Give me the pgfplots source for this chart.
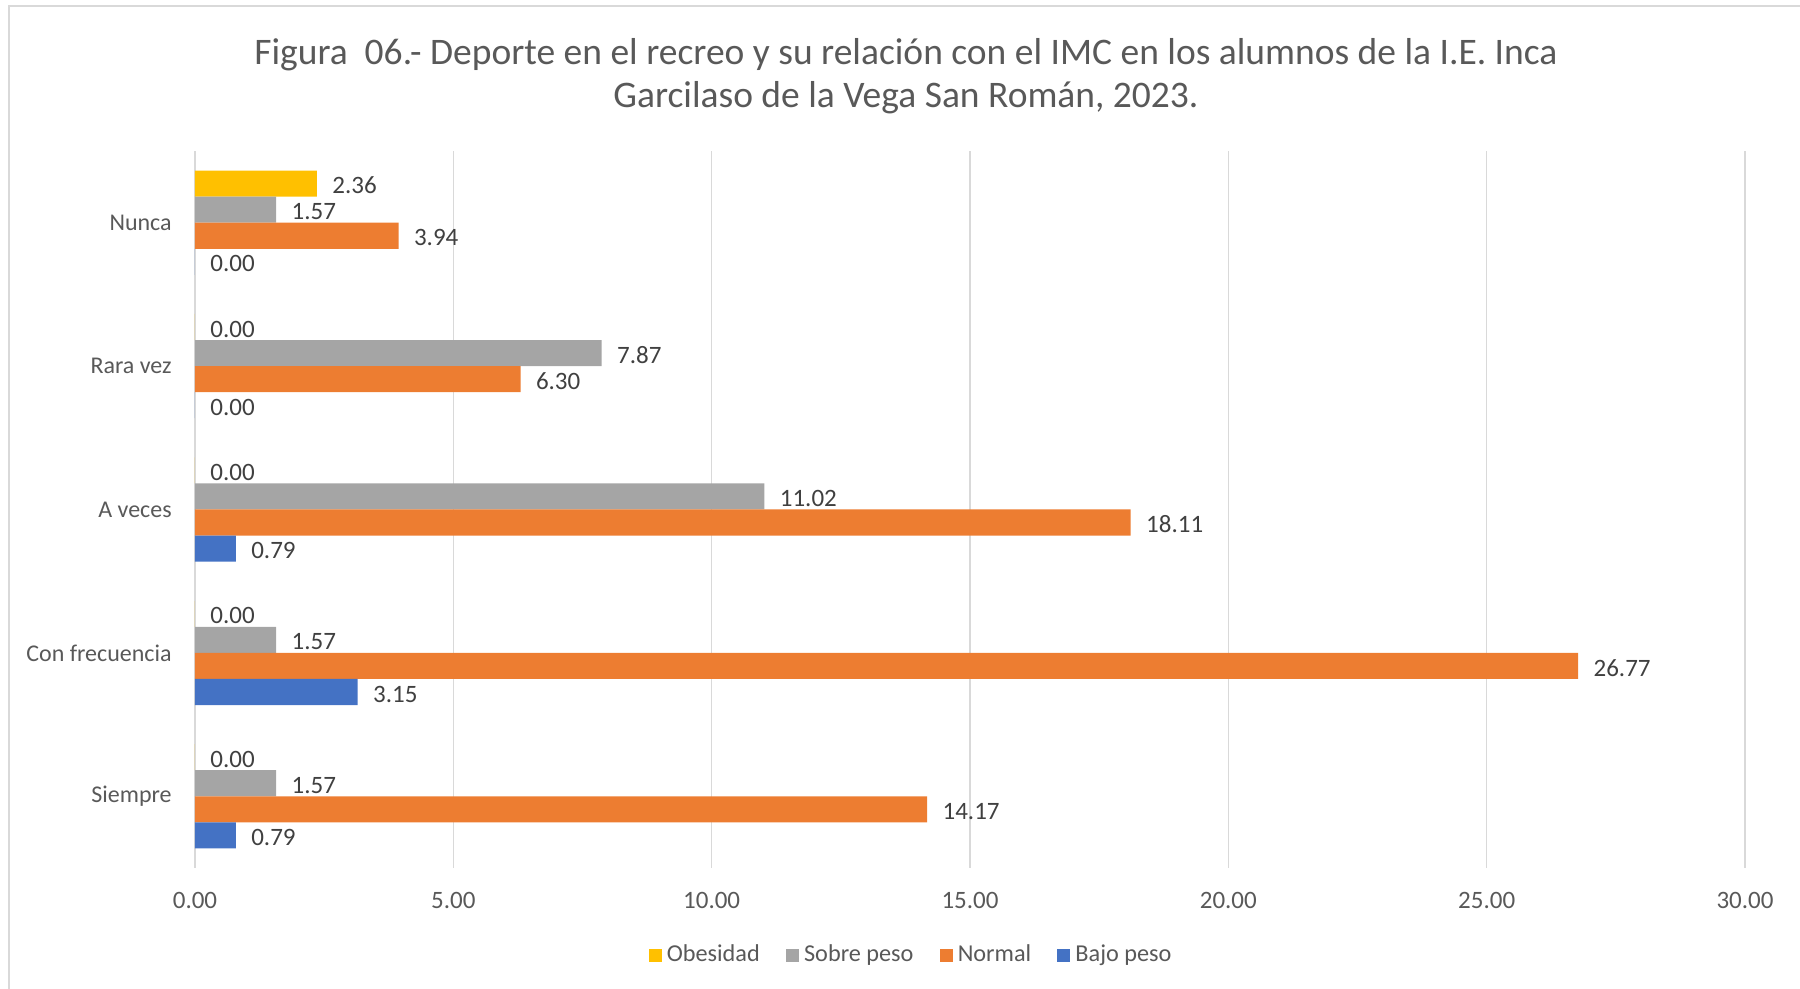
\documentclass[border=0pt]{standalone}
\usepackage{fontspec}
\setmainfont{Carlito}
\usepackage{pgfplots}
\pgfplotsset{compat=1.18}
\definecolor{obes}{HTML}{FFC000}
\definecolor{sobre}{HTML}{A5A5A5}
\definecolor{normal}{HTML}{ED7D31}
\definecolor{bajo}{HTML}{4472C4}
\definecolor{axgray}{HTML}{595959}
\definecolor{lblgray}{HTML}{404040}
\definecolor{gridgray}{HTML}{D9D9D9}
\begin{document}
\begin{tikzpicture}
\useasboundingbox (-78pt,-48.4pt) rectangle (642pt,347.2pt);
\draw[draw=gridgray, line width=0.9pt] (-74.4pt,-48.4pt) -- (-74.4pt,344.8pt) -- (642pt,344.8pt);
\begin{axis}[
  at={(0pt,0pt)}, anchor=south west,
  scale only axis, width=620pt, height=286.8pt,
  xbar, bar width=0.1818,
  xmin=0, xmax=30, ymin=-0.5, ymax=4.5,
  xtick={0,5,...,30}, ytick={0,1,2,3,4},
  yticklabels={Siempre,Con frecuencia,A veces,Rara vez,Nunca},
  xticklabel={\pgfmathprintnumber[fixed,fixed zerofill,precision=2]{\tick}},
  /pgf/number format/assume math mode=true,
  axis line style={draw=none},
  major tick length=0pt,
  xmajorgrids, major grid style={draw=gridgray, line width=0.6pt},
  xticklabel style={font=\fontsize{10}{12}\selectfont, text=axgray, yshift=-6pt},
  yticklabel style={font=\fontsize{9.6}{12}\selectfont, text=axgray, xshift=-5.8pt},
  title={Figura\ \ 06.- Deporte en el recreo y su relación con el IMC en los alumnos de la I.E. Inca\\Garcilaso de la Vega San Román, 2023.},
  title style={at={(0.4587,1.084)}, anchor=center, align=center, font=\fontsize{15}{17.2}\selectfont, text=axgray},
  point meta=x,
  nodes near coords={\pgfmathprintnumber[fixed,fixed zerofill,precision=2]{\pgfplotspointmeta}},
  every node near coord/.append style={anchor=west, inner sep=0pt, xshift=6pt, yshift=-0.8pt, font=\fontsize{10}{12}\selectfont, text=lblgray},
  legend columns=4,
  legend style={at={(0.463,-0.1218)}, anchor=center, draw=none, font=\fontsize{9.7}{12}\selectfont, text=axgray,
    /tikz/every even column/.append style={column sep=8.5pt}},
  legend image code/.code={\fill[#1] (0pt,-2.6pt) rectangle (5.2pt,2.6pt);},
]
\addplot[fill=obes, draw=none, bar shift=0.2727] coordinates {(0,0) (0,1) (0,2) (0,3) (2.36,4)};
\addlegendentry{Obesidad}
\addplot[fill=sobre, draw=none, bar shift=0.0909] coordinates {(1.57,0) (1.57,1) (11.02,2) (7.87,3) (1.57,4)};
\addlegendentry{Sobre peso}
\addplot[fill=normal, draw=none, bar shift=-0.0909] coordinates {(14.17,0) (26.77,1) (18.11,2) (6.30,3) (3.94,4)};
\addlegendentry{Normal}
\addplot[fill=bajo, draw=none, bar shift=-0.2727] coordinates {(0.79,0) (3.15,1) (0.79,2) (0,3) (0,4)};
\addlegendentry{Bajo peso}
\end{axis}
\end{tikzpicture}
\end{document}
